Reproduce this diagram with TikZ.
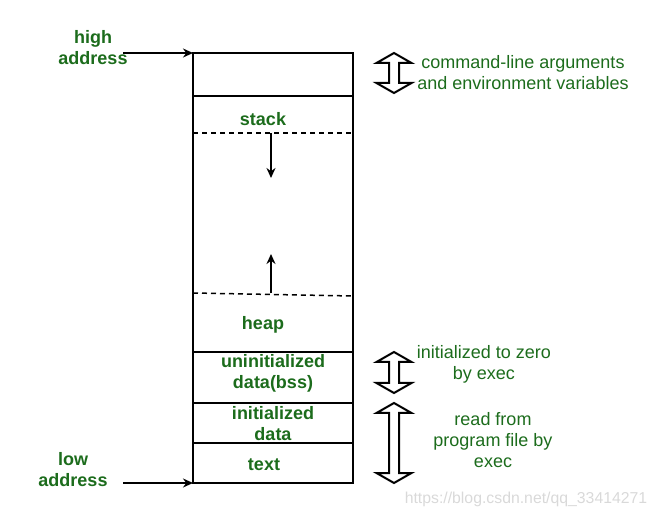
\documentclass[tikz,border=0pt]{standalone}
\usepackage{fontspec}
\setmainfont{Liberation Sans}
\usetikzlibrary{arrows.meta,positioning}

\definecolor{labelgreen}{RGB}{28,108,28}

\tikzset{>={Stealth[length=10pt,width=9pt]}}
\tikzset{
	seg/.style={draw, line width=2pt, minimum width=160pt, inner sep=0pt, outer sep=0pt},
	lbl/.style={text=labelgreen, font=\fontsize{18}{21}\selectfont\bfseries, align=center, inner sep=0pt},
	note/.style={text=labelgreen, font=\fontsize{18}{21}\selectfont, align=center, inner sep=0pt}
}

% outlined double arrow: x, top, bottom
\newcommand{\dblarrow}[3]{%
	\draw[line width=2pt, line join=miter, fill=white]
		(#1,#2) -- ++(17.5,10) -- ++(-12.5,0) -- (#1+5,#3-10) -- ++(12.5,0)
		-- (#1,#3) -- ++(-17.5,-10) -- ++(12.5,0) -- (#1-5,#2+10) -- ++(-12.5,0) -- cycle;}

\begin{document}
\begin{tikzpicture}[x=1pt,y=-1pt]

	\useasboundingbox (0,0) rectangle (656,518);

	% memory segments
	\node[seg, minimum height=43pt, anchor=north west] (env) at (193,53) {};
	\node[seg, minimum height=256pt, below=0pt of env] (mid) {};
	\node[seg, minimum height=51pt, below=0pt of mid] (bss) {};
	\node[seg, minimum height=40pt, below=0pt of bss] (init) {};
	\node[seg, minimum height=40pt, below=0pt of init] (txt) {};

	\node[lbl] (stack) at (263,119) {stack};
	\node[lbl] (heap) at (263,325) {heap};
	\node[lbl] (bsstext) at (273,373) {uninitialized\\data(bss)};
	\node[lbl] (inittext) at (273,424) {initialized\\data};
	\node[lbl] (txttext) at (264,465) {text};

	% growth limits
	\draw[dashed, dash pattern=on 5pt off 4pt, line width=1.5pt] (193,133) -- (353,133);
	\draw[dashed, dash pattern=on 5pt off 4pt, line width=1.5pt] (193,293) -- (353,296);

	\coordinate (sdown) at (271,133);
	\coordinate (sdownend) at (271,178);
	\coordinate (hup) at (271,293);
	\coordinate (hupend) at (271,254);
	\draw[->, line width=1.5pt] (sdown) -- (sdownend);
	\draw[->, line width=1.5pt] (hup) -- (hupend);

	% addresses
	\node[lbl] (high) at (93,48) {high\\address};
	\node[lbl] (low) at (73,470) {low\\address};
	\coordinate (highstart) at (123,53);
	\coordinate (lowstart) at (123,483);
	\draw[->, line width=1.5pt] (highstart) -- (env.north west);
	\draw[->, line width=1.5pt] (lowstart) -- (txt.south west);

	% right hand notes
	\dblarrow{394}{53}{93}
	\dblarrow{394}{352}{393}
	\dblarrow{394}{403}{483}

	\node[note] (args) at (523,73) {command-line arguments\\and environment variables};
	\node[note] (zero) at (484,364) {initialized to zero\\by exec};
	\node[note] (exec) at (493,440) {read from\\program file by\\exec};

	\node[text=black!15, font=\fontsize{15.8}{19}\selectfont, inner sep=0pt] (mark) at (526,499) {https://blog.csdn.net/qq\_33414271};

\end{tikzpicture}
\end{document}
